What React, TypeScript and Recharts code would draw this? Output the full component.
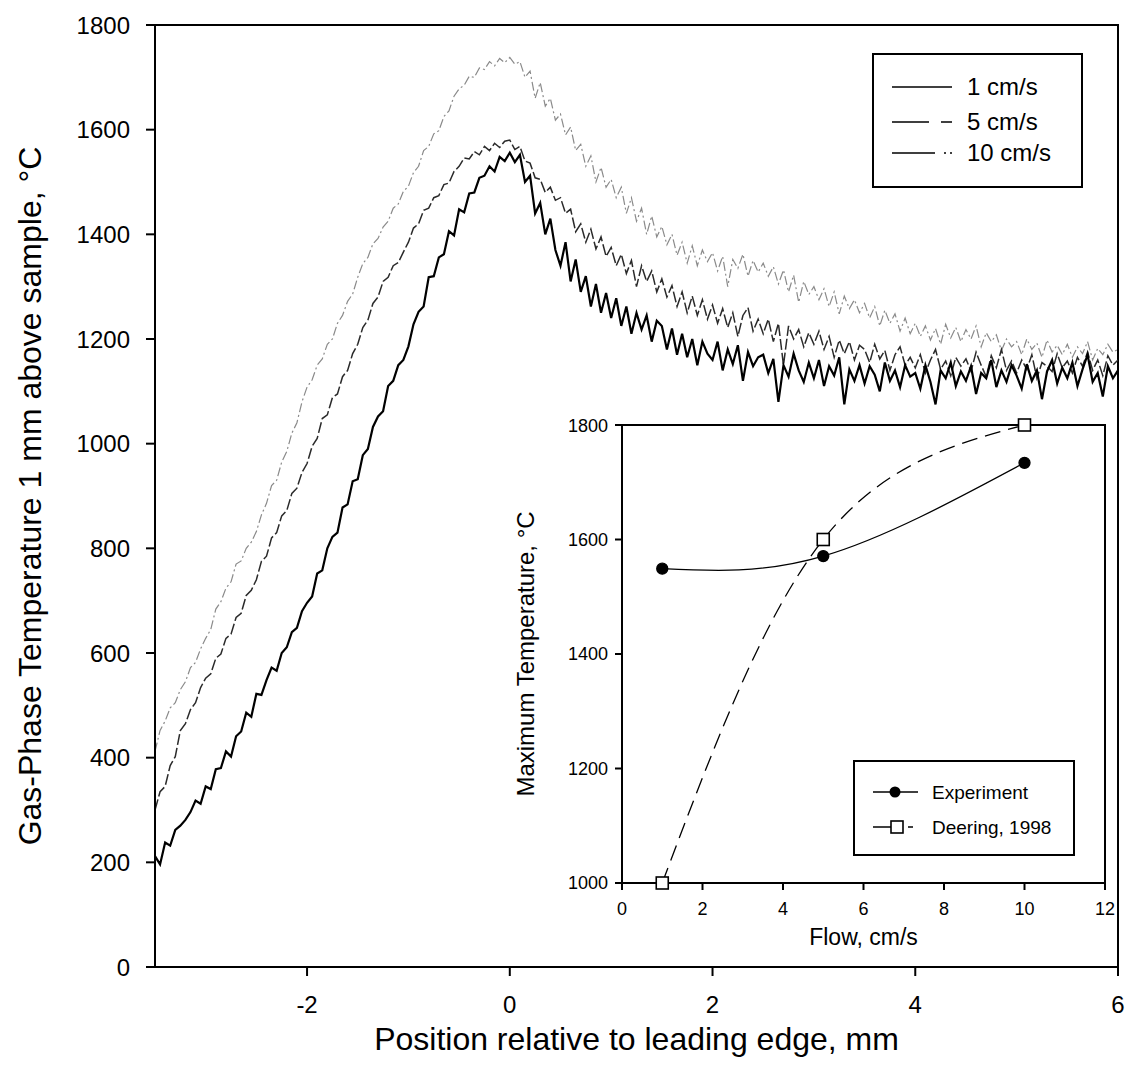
import { LineChart, Line, XAxis, YAxis, Legend, ReferenceArea, Label } from "recharts";

const font = "'Liberation Sans', Arial, sans-serif";

// sample positions along the surface, mm
const positions = [
  -3.5, -3.45, -3.4, -3.35, -3.3, -3.25, -3.2, -3.15, -3.1, -3.05,
  -3, -2.95, -2.9, -2.85, -2.8, -2.75, -2.7, -2.65, -2.6, -2.55,
  -2.5, -2.45, -2.4, -2.35, -2.3, -2.25, -2.2, -2.15, -2.1, -2.05,
  -2, -1.95, -1.9, -1.85, -1.8, -1.75, -1.7, -1.65, -1.6, -1.55,
  -1.5, -1.45, -1.4, -1.35, -1.3, -1.25, -1.2, -1.15, -1.1, -1.05,
  -1, -0.95, -0.9, -0.85, -0.8, -0.75, -0.7, -0.65, -0.6, -0.55,
  -0.5, -0.45, -0.4, -0.35, -0.3, -0.25, -0.2, -0.15, -0.1, -0.05,
  0, 0.05, 0.1, 0.15, 0.2, 0.25, 0.3, 0.35, 0.4, 0.45,
  0.5, 0.55, 0.6, 0.65, 0.7, 0.75, 0.8, 0.85, 0.9, 0.95,
  1, 1.05, 1.1, 1.15, 1.2, 1.25, 1.3, 1.35, 1.4, 1.45,
  1.5, 1.55, 1.6, 1.65, 1.7, 1.75, 1.8, 1.85, 1.9, 1.95,
  2, 2.05, 2.1, 2.15, 2.2, 2.25, 2.3, 2.35, 2.4, 2.45,
  2.5, 2.55, 2.6, 2.65, 2.7, 2.75, 2.8, 2.85, 2.9, 2.95,
  3, 3.05, 3.1, 3.15, 3.2, 3.25, 3.3, 3.35, 3.4, 3.45,
  3.5, 3.55, 3.6, 3.65, 3.7, 3.75, 3.8, 3.85, 3.9, 3.95,
  4, 4.05, 4.1, 4.15, 4.2, 4.25, 4.3, 4.35, 4.4, 4.45,
  4.5, 4.55, 4.6, 4.65, 4.7, 4.75, 4.8, 4.85, 4.9, 4.95,
  5, 5.05, 5.1, 5.15, 5.2, 5.25, 5.3, 5.35, 5.4, 5.45,
  5.5, 5.55, 5.6, 5.65, 5.7, 5.75, 5.8, 5.85, 5.9, 5.95,
  6,
];

// 1 cm/s
const temp1 = [
  212, 196, 238, 232, 262, 270, 281, 296, 318, 312,
  345, 340, 378, 380, 412, 402, 441, 450, 486, 478,
  522, 520, 548, 572, 566, 600, 611, 640, 648, 680,
  696, 708, 752, 758, 800, 822, 830, 878, 884, 928,
  932, 978, 990, 1032, 1052, 1062, 1110, 1120, 1150, 1160,
  1186, 1228, 1252, 1262, 1318, 1320, 1356, 1362, 1406, 1398,
  1448, 1442, 1478, 1480, 1508, 1512, 1530, 1520, 1548, 1540,
  1556, 1538, 1552, 1500, 1512, 1440, 1460, 1400, 1430, 1370,
  1340, 1385, 1310, 1352, 1290, 1320, 1262, 1305, 1250, 1288,
  1240, 1278, 1225, 1262, 1210, 1250, 1218, 1245, 1195, 1235,
  1225, 1180, 1220, 1170, 1210, 1165, 1200, 1150, 1195, 1172,
  1160, 1195, 1140, 1180, 1152, 1188, 1120, 1175, 1148, 1165,
  1170, 1135, 1162, 1080, 1150, 1128, 1172, 1140, 1118, 1155,
  1125, 1160, 1110, 1148, 1130, 1165, 1075, 1142, 1120, 1150,
  1115, 1148, 1132, 1100, 1155, 1120, 1140, 1108, 1150, 1128,
  1135, 1105, 1150, 1118, 1075, 1140, 1125, 1155, 1110, 1138,
  1120, 1148, 1095, 1135, 1125, 1160, 1108, 1140, 1118, 1150,
  1130, 1105, 1152, 1120, 1140, 1085, 1138, 1160, 1115, 1145,
  1125, 1155, 1110, 1142, 1170, 1118, 1135, 1090, 1148, 1125,
  1140,
];

// 5 cm/s
const temp5 = [
  300, 335, 345, 385, 402, 452, 465, 492, 505, 534,
  552, 560, 590, 598, 628, 636, 668, 676, 710, 720,
  740, 775, 785, 820, 830, 862, 872, 905, 915, 945,
  962, 995, 1010, 1048, 1055, 1088, 1095, 1128, 1140, 1172,
  1190, 1222, 1236, 1268, 1280, 1310, 1318, 1340, 1346, 1366,
  1385, 1412, 1420, 1446, 1450, 1470, 1474, 1495, 1498, 1520,
  1530, 1546, 1544, 1558, 1552, 1568, 1560, 1574, 1566, 1578,
  1580, 1562, 1568, 1540, 1536, 1508, 1505, 1480, 1490, 1465,
  1470, 1440, 1448, 1405, 1420, 1385, 1410, 1372, 1395, 1358,
  1375, 1340, 1362, 1325, 1350, 1300, 1340, 1310, 1330, 1290,
  1315, 1280, 1302, 1262, 1290, 1250, 1282, 1245, 1275, 1238,
  1265, 1230, 1258, 1222, 1250, 1205, 1245, 1260, 1215, 1238,
  1210, 1238, 1195, 1230, 1150, 1225, 1200, 1218, 1185, 1212,
  1190, 1215, 1180, 1205, 1165, 1198, 1172, 1195, 1160, 1188,
  1180, 1155, 1190, 1162, 1178, 1140, 1170, 1185, 1150, 1165,
  1145, 1170, 1135, 1160, 1180, 1142, 1158, 1130, 1165, 1148,
  1162, 1138, 1175, 1150, 1128, 1168, 1145, 1180, 1140, 1158,
  1135, 1160, 1142, 1170, 1125, 1155, 1148, 1138, 1172, 1145,
  1158, 1135, 1165, 1148, 1175, 1140, 1160, 1130, 1168, 1150,
  1160,
];

// 10 cm/s
const temp10 = [
  412, 452, 470, 495, 505, 530, 545, 572, 582, 608,
  628, 645, 684, 698, 724, 736, 770, 776, 800, 812,
  832, 864, 886, 920, 930, 965, 985, 1020, 1040, 1080,
  1108, 1122, 1150, 1162, 1190, 1200, 1230, 1245, 1272, 1286,
  1318, 1344, 1356, 1382, 1392, 1414, 1425, 1450, 1458, 1482,
  1492, 1518, 1530, 1560, 1568, 1592, 1598, 1625, 1636, 1664,
  1678, 1685, 1702, 1700, 1718, 1715, 1730, 1722, 1736, 1728,
  1738, 1725, 1730, 1700, 1712, 1660, 1690, 1645, 1660, 1618,
  1630, 1590, 1605, 1560, 1572, 1530, 1550, 1500, 1528, 1490,
  1505, 1470, 1490, 1440, 1470, 1425, 1450, 1400, 1435, 1395,
  1415, 1380, 1400, 1360, 1385, 1345, 1378, 1340, 1370, 1348,
  1365, 1330, 1358, 1300, 1352, 1335, 1362, 1320, 1350, 1328,
  1345, 1320, 1338, 1305, 1332, 1290, 1322, 1270, 1310, 1285,
  1300, 1275, 1296, 1262, 1290, 1248, 1282, 1258, 1275, 1250,
  1268, 1240, 1262, 1225, 1255, 1230, 1248, 1215, 1240, 1210,
  1230, 1205, 1225, 1198, 1220, 1190, 1228, 1202, 1222, 1195,
  1218, 1200, 1225, 1185, 1212, 1195, 1208, 1178, 1200, 1185,
  1195, 1170, 1200, 1180, 1192, 1165, 1198, 1175, 1188, 1170,
  1190, 1165, 1185, 1172, 1195, 1160, 1182, 1170, 1190, 1175,
  1180,
];

// inset: maximum temperature vs flow
const flows = [1, 5, 10];
const experimentMax = [1549, 1571, 1734];
const deeringMax = [1000, 1600, 1800];

const mainXTicks = [-2, 0, 2, 4, 6];
const mainYTicks = [0, 200, 400, 600, 800, 1000, 1200, 1400, 1600, 1800];
const insetXTicks = [0, 2, 4, 6, 8, 10, 12];
const insetYTicks = [1000, 1200, 1400, 1600, 1800];

const profileData = positions.map((x, i) => ({
  x,
  v1: temp1[i],
  v5: temp5[i],
  v10: temp10[i],
}));

const insetData = flows.map((f, i) => ({
  flow: f,
  experiment: experimentMax[i],
  deering: deeringMax[i],
}));

const legendRows = [
  { label: "1 cm/s", dash: undefined },
  { label: "5 cm/s", dash: "37 12 12 20" },
  { label: "10 cm/s", dash: "43 9 2 4 2 20" },
];

function MainLegend() {
  return (
    <svg width={211} height={135} style={{ display: "block" }}>
      <rect x={1} y={1} width={209} height={133} fill="#fff" stroke="#000" strokeWidth={2} />
      {legendRows.map((r, i) => {
        const y = [34, 69, 100][i];
        return (
          <g key={r.label}>
            <line x1={20} x2={80} y1={y} y2={y} stroke="#000" strokeWidth={1.5} strokeDasharray={r.dash} />
            <text x={95} y={y} dy="0.35em" fontSize={24} fontFamily={font} fill="#000">
              {r.label}
            </text>
          </g>
        );
      })}
    </svg>
  );
}

function InsetLegend() {
  return (
    <svg width={222} height={96} style={{ display: "block" }}>
      <rect x={1} y={1} width={220} height={94} fill="#fff" stroke="#000" strokeWidth={2} />
      <line x1={20} x2={65} y1={32} y2={32} stroke="#000" strokeWidth={1.5} />
      <circle cx={42} cy={32} r={5.5} fill="#000" />
      <text x={79} y={32} dy="0.35em" fontSize={19} fontFamily={font} fill="#000">Experiment</text>
      <line x1={20} x2={38} y1={67} y2={67} stroke="#000" strokeWidth={1.5} />
      <line x1={55} x2={60} y1={67} y2={67} stroke="#000" strokeWidth={1.5} />
      <rect x={38} y={61} width={12} height={12} fill="#fff" stroke="#000" strokeWidth={1.6} />
      <text x={79} y={67} dy="0.35em" fontSize={19} fontFamily={font} fill="#000">Deering, 1998</text>
    </svg>
  );
}

const SquareDot = (props: any) => {
  const { cx, cy } = props;
  if (cx == null || cy == null) return null;
  return <rect x={cx - 6} y={cy - 6} width={12} height={12} fill="#fff" stroke="#000" strokeWidth={1.6} />;
};

const axisStyle = { stroke: "#000", strokeWidth: 2 };

export default function App() {
  return (
    <div style={{ position: "absolute", left: 0, top: 0, width: 1126, height: 1081, background: "#fff", overflow: "hidden" }}>
      <LineChart
        width={1126}
        height={1081}
        data={profileData}
        margin={{ top: 25, right: 8, bottom: 0, left: 0 }}
        style={{ position: "absolute", left: 0, top: 0 }}
      >
        <XAxis
          dataKey="x"
          type="number"
          domain={[-3.5, 6]}
          ticks={mainXTicks}
          allowDataOverflow
          height={114}
          tickSize={9}
          tickMargin={20}
          axisLine={axisStyle}
          tickLine={axisStyle}
          tick={{ fill: "#000", fontSize: 24, fontFamily: font }}
        >
          <Label
            value="Position relative to leading edge, mm"
            position="insideBottom"
            offset={31}
            style={{ fontSize: 32, fill: "#000", fontFamily: font }}
          />
        </XAxis>
        <YAxis
          type="number"
          domain={[0, 1800]}
          ticks={mainYTicks}
          allowDataOverflow
          width={155}
          tickSize={9}
          tickMargin={16}
          axisLine={axisStyle}
          tickLine={axisStyle}
          tick={{ fill: "#000", fontSize: 24, fontFamily: font }}
        >
          <Label
            value="Gas-Phase Temperature 1 mm above sample, °C"
            angle={-90}
            position="insideLeft"
            offset={30}
            style={{ fontSize: 32, fill: "#000", fontFamily: font, textAnchor: "middle" }}
          />
        </YAxis>
        <ReferenceArea x1={-3.5} x2={6} y1={0} y2={1800} fill="none" stroke="#000" strokeWidth={2} ifOverflow="visible" />
        <Line dataKey="v10" type="linear" stroke="#8a8a8a" strokeWidth={1.2} strokeDasharray="9 3 2 3" dot={false} isAnimationActive={false} />
        <Line dataKey="v5" type="linear" stroke="#2a2a2a" strokeWidth={1.5} strokeDasharray="11 3" dot={false} isAnimationActive={false} />
        <Line dataKey="v1" type="linear" stroke="#000" strokeWidth={2.2} dot={false} isAnimationActive={false} />
        <Legend
          layout="vertical"
          align="center"
          verticalAlign="middle"
          content={MainLegend}
          wrapperStyle={{ left: 872, top: 53, width: 211, height: 135 }}
        />
      </LineChart>

      <LineChart
        width={625}
        height={538}
        data={insetData}
        margin={{ top: 10, right: 20, bottom: 0, left: 0 }}
        style={{ position: "absolute", left: 500, top: 415 }}
      >
        <XAxis
          dataKey="flow"
          type="number"
          domain={[0, 12]}
          ticks={insetXTicks}
          height={70}
          tickSize={7}
          tickMargin={12}
          axisLine={axisStyle}
          tickLine={axisStyle}
          tick={{ fill: "#000", fontSize: 18, fontFamily: font }}
        >
          <Label value="Flow, cm/s" position="insideBottom" offset={8} style={{ fontSize: 23, fill: "#000", fontFamily: font }} />
        </XAxis>
        <YAxis
          type="number"
          domain={[1000, 1800]}
          ticks={insetYTicks}
          width={122}
          tickSize={7}
          tickMargin={7}
          axisLine={axisStyle}
          tickLine={axisStyle}
          tick={{ fill: "#000", fontSize: 18, fontFamily: font }}
        >
          <Label
            value="Maximum Temperature, °C"
            angle={-90}
            position="insideLeft"
            offset={25}
            style={{ fontSize: 24, fill: "#000", fontFamily: font, textAnchor: "middle" }}
          />
        </YAxis>
        <ReferenceArea x1={0} x2={12} y1={1000} y2={1800} fill="none" stroke="#000" strokeWidth={2} ifOverflow="visible" />
        <Line dataKey="deering" type="natural" stroke="#000" strokeWidth={1.3} strokeDasharray="16 8" dot={<SquareDot />} isAnimationActive={false} />
        <Line dataKey="experiment" type="natural" stroke="#000" strokeWidth={1.3} dot={{ r: 5.5, fill: "#000", stroke: "#000" }} isAnimationActive={false} />
        <Legend
          layout="vertical"
          align="center"
          verticalAlign="middle"
          content={InsetLegend}
          wrapperStyle={{ left: 353, top: 345, width: 222, height: 96 }}
        />
      </LineChart>
    </div>
  );
}
